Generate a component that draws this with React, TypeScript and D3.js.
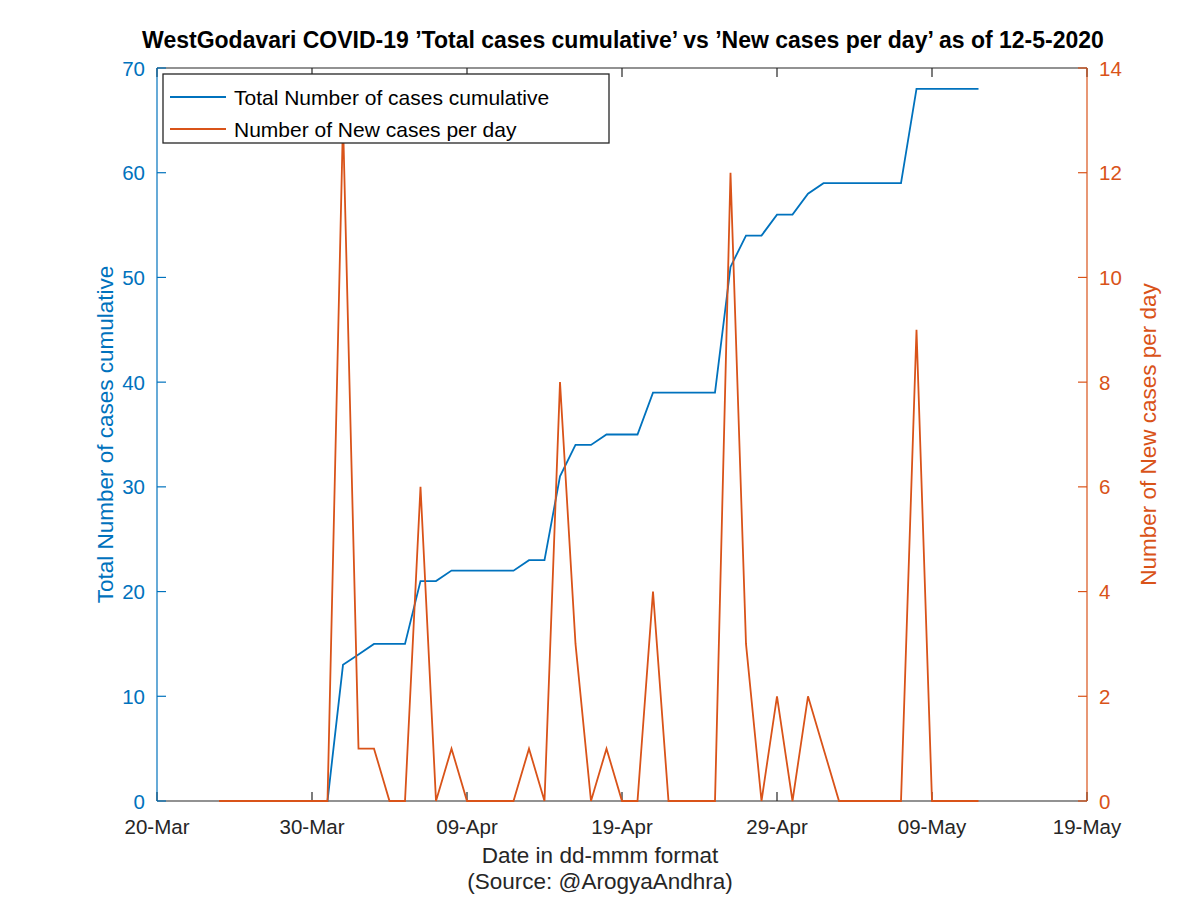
import React from "react";
import * as d3 from "d3";

const startDate = "2020-03-24";
const totalCumulative = [
  0, 0, 0, 0, 0, 0, 0, 0, 13, 14, 15, 15, 15, 21, 21, 22, 22, 22, 22, 22, 23, 23, 31, 34, 34,
  35, 35, 35, 39, 39, 39, 39, 39, 51, 54, 54, 56, 56, 58, 59, 59, 59, 59, 59, 59, 68, 68, 68, 68, 68,
];
const newPerDay = [
  0, 0, 0, 0, 0, 0, 0, 0, 13, 1, 1, 0, 0, 6, 0, 1, 0, 0, 0, 0, 1, 0, 8, 3, 0,
  1, 0, 0, 4, 0, 0, 0, 0, 12, 3, 0, 2, 0, 2, 1, 0, 0, 0, 0, 0, 9, 0, 0, 0, 0,
];
const xTickLabels = ["20-Mar", "30-Mar", "09-Apr", "19-Apr", "29-Apr", "09-May", "19-May"];
const leftTicks = [0, 10, 20, 30, 40, 50, 60, 70];
const rightTicks = [0, 2, 4, 6, 8, 10, 12, 14];
const seriesNames = ["Total Number of cases cumulative", "Number of New cases per day"];

const BLUE = "#0072BD";
const ORANGE = "#D95319";
const AX = "#262626";
const FONT = "'Liberation Sans', Arial, Helvetica, sans-serif";

export default function App() {
  const W = 1200, H = 898;
  const L = 157, R = 1087, T = 68, B = 801;
  const start = new Date(startDate + "T00:00:00Z");
  const dates = totalCumulative.map((_, i) => d3.utcDay.offset(start, i));
  const x = d3
    .scaleUtc()
    .domain([new Date("2020-03-20T00:00:00Z"), new Date("2020-05-19T00:00:00Z")])
    .range([L, R]);
  const tickDates = xTickLabels.map((_, i) => d3.utcDay.offset(new Date("2020-03-20T00:00:00Z"), i * 10));
  const yL = d3.scaleLinear().domain([0, 70]).range([B, T]);
  const yR = d3.scaleLinear().domain([0, 14]).range([B, T]);
  const lineL = d3
    .line<number>()
    .x((_, i) => x(dates[i]))
    .y((v) => yL(v));
  const lineR = d3
    .line<number>()
    .x((_, i) => x(dates[i]))
    .y((v) => yR(v));
  const tl = 9;
  const tickFs = 20.5;
  const labelFs = 22.5;
  const legendFs = 21;
  return (
    <svg
      width={W}
      height={H}
      style={{ position: "absolute", left: 0, top: 0, background: "#fff" }}
      fontFamily={FONT}
    >
      <rect x={0} y={0} width={W} height={H} fill="#fff" />
      {/* plot frame */}
      <line x1={L} x2={R} y1={T} y2={T} stroke={AX} strokeWidth={1.2} />
      <line x1={L} x2={R} y1={B} y2={B} stroke={AX} strokeWidth={1.2} />
      {/* x ticks */}
      {tickDates.map((d, i) => (
        <g key={"xt" + i}>
          <line x1={x(d)} x2={x(d)} y1={B} y2={B - tl} stroke={AX} strokeWidth={1.2} />
          <line x1={x(d)} x2={x(d)} y1={T} y2={T + tl} stroke={AX} strokeWidth={1.2} />
          <text x={x(d)} y={834} textAnchor="middle" fontSize={tickFs} fill={AX}>
            {xTickLabels[i]}
          </text>
        </g>
      ))}
      {/* left axis */}
      <line x1={L} x2={L} y1={T} y2={B} stroke={BLUE} strokeWidth={1.2} />
      {leftTicks.map((v) => (
        <g key={"lt" + v}>
          <line x1={L} x2={L + tl} y1={yL(v)} y2={yL(v)} stroke={BLUE} strokeWidth={1.2} />
          <text x={145} y={yL(v) + 7.5} textAnchor="end" fontSize={tickFs} fill={BLUE}>
            {v}
          </text>
        </g>
      ))}
      {/* right axis */}
      <line x1={R} x2={R} y1={T} y2={B} stroke={ORANGE} strokeWidth={1.2} />
      {rightTicks.map((v) => (
        <g key={"rt" + v}>
          <line x1={R} x2={R - tl} y1={yR(v)} y2={yR(v)} stroke={ORANGE} strokeWidth={1.2} />
          <text x={1099} y={yR(v) + 7.5} textAnchor="start" fontSize={tickFs} fill={ORANGE}>
            {v}
          </text>
        </g>
      ))}
      {/* series */}
      <path d={lineL(totalCumulative) || ""} fill="none" stroke={BLUE} strokeWidth={1.8} />
      <path d={lineR(newPerDay) || ""} fill="none" stroke={ORANGE} strokeWidth={1.8} />
      {/* legend */}
      <rect x={163} y={74} width={446} height={69} fill="#fff" stroke={AX} strokeWidth={1.3} />
      <line x1={170} x2={226} y1={97} y2={97} stroke={BLUE} strokeWidth={1.8} />
      <text x={234} y={104.5} fontSize={legendFs} fill="#000">
        {seriesNames[0]}
      </text>
      <line x1={170} x2={226} y1={129} y2={129} stroke={ORANGE} strokeWidth={1.8} />
      <text x={234} y={136.5} fontSize={legendFs} fill="#000">
        {seriesNames[1]}
      </text>
      {/* title */}
      <text x={623} y={48} textAnchor="middle" fontSize={23} fontWeight="bold" fill="#000">
        WestGodavari COVID-19 ’Total cases cumulative’ vs ’New cases per day’ as of 12-5-2020
      </text>
      {/* axis labels */}
      <text
        transform={`translate(113, ${(T + B) / 2}) rotate(-90)`}
        textAnchor="middle"
        fontSize={labelFs}
        fill={BLUE}
      >
        Total Number of cases cumulative
      </text>
      <text
        transform={`translate(1156, ${(T + B) / 2}) rotate(-90)`}
        textAnchor="middle"
        fontSize={labelFs}
        fill={ORANGE}
      >
        Number of New cases per day
      </text>
      <text x={600} y={863} textAnchor="middle" fontSize={labelFs} fill={AX}>
        Date in dd-mmm format
      </text>
      <text x={600} y={889} textAnchor="middle" fontSize={labelFs} fill={AX}>
        (Source: @ArogyaAndhra)
      </text>
    </svg>
  );
}
